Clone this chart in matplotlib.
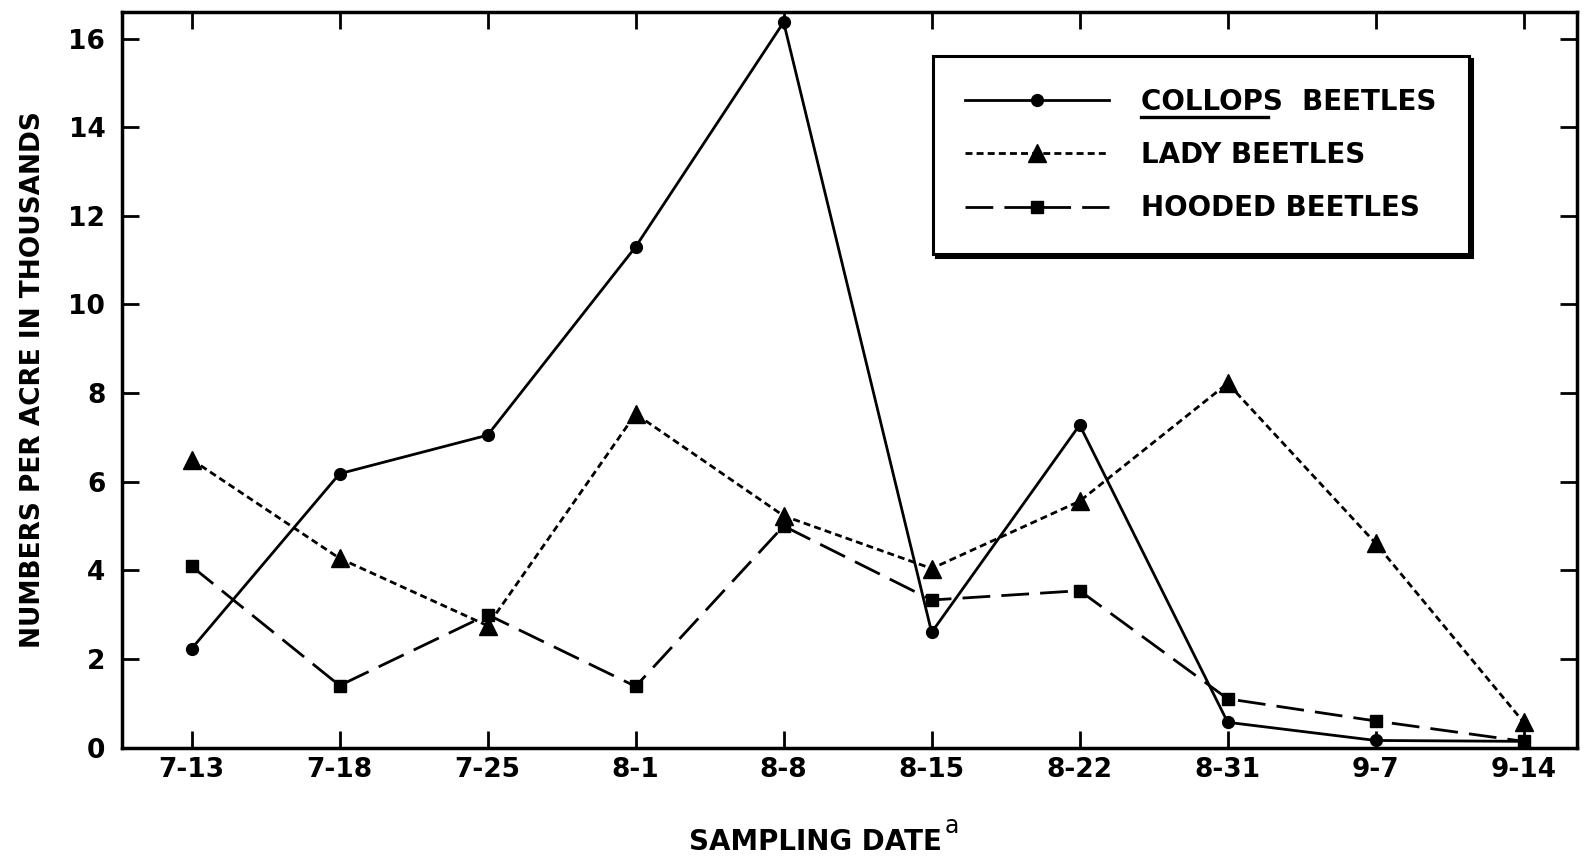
import matplotlib
matplotlib.use("Agg")
import matplotlib.pyplot as plt
from matplotlib.lines import Line2D

dates = ["7-13", "7-18", "7-25", "8-1", "8-8", "8-15", "8-22", "8-31", "9-7", "9-14"]
collops = [2.23, 6.18, 7.05, 11.3, 16.37, 2.6, 7.28, 0.57, 0.16, 0.14]
lady = [6.5, 4.27, 2.75, 7.53, 5.23, 4.04, 5.56, 8.22, 4.61, 0.57]
hooded = [4.09, 1.4, 3.0, 1.38, 5.0, 3.33, 3.54, 1.1, 0.6, 0.14]
yticks = [0, 2, 4, 6, 8, 10, 12, 14, 16]

plt.rcParams['font.family'] = ['DejaVu Sans']
plt.rcParams['font.weight'] = 'bold'

fig = plt.figure(figsize=(15.95, 8.57), dpi=100)
ax = fig.add_axes([0.0765, 0.1277, 0.9122, 0.8583])

x = list(range(len(dates)))
lw = 2.0
ax.plot(x, collops, color='black', lw=lw, linestyle='-', marker='o', markersize=8.5,
        label='COLLOPS  BEETLES')
ax.plot(x, lady, color='black', lw=lw, linestyle=(0, (2.5, 1.5)), marker='^', markersize=13,
        label='LADY BEETLES')
ax.plot(x, hooded, color='black', lw=lw, linestyle=(0, (10, 4)), marker='s', markersize=8.5,
        label='HOODED BEETLES')

ax.set_xlim(-0.47, 9.36)
ax.set_ylim(0, 16.6)
ax.set_xticks(x)
ax.set_xticklabels(dates)
ax.set_yticks(yticks)
ax.set_yticklabels([str(v) for v in yticks])
ax.tick_params(direction='in', length=12, width=2, top=True, right=True, labelsize=19)
ax.tick_params(axis='x', pad=7)
ax.tick_params(axis='y', pad=12)
for s in ax.spines.values():
    s.set_linewidth(2.5)

ax.set_ylabel('NUMBERS PER ACRE IN THOUSANDS', fontsize=19, fontweight='bold', labelpad=16)
fig.text(0.511, 0.018, 'SAMPLING DATE', fontsize=20, ha='center', va='center')
fig.text(0.592, 0.036, 'a', fontsize=17, fontweight='normal', ha='left', va='center')

leg = ax.legend(loc='upper left', bbox_to_anchor=(0.585, 0.9347),
                bbox_transform=fig.transFigure, fontsize=20, handlelength=5.2,
                handletextpad=1.15, labelspacing=0.91, borderpad=1.15,
                borderaxespad=0, frameon=True, fancybox=False,
                shadow={'color': 'black', 'alpha': 1}, edgecolor='black')
leg.get_frame().set_linewidth(2.2)
leg.get_frame().set_facecolor('white')

fig.canvas.draw()
r = fig.canvas.get_renderer()
t = leg.get_texts()[0]
bb = t.get_window_extent(renderer=r)
frac = len('COLLOPS') / len('COLLOPS  BEETLES')
x0 = bb.x0 / fig.bbox.width
x1 = (bb.x0 + bb.width * frac * 0.98) / fig.bbox.width
yy = (bb.y0 - 1) / fig.bbox.height
fig.add_artist(Line2D([x0, x1], [yy, yy], color='black', lw=2.4, transform=fig.transFigure))

fig.savefig('out.png', dpi=100, facecolor='white')
